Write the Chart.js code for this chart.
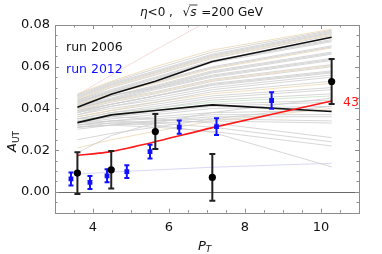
<!DOCTYPE html>
<html>
<head>
<meta charset="utf-8">
<script src="https://cdn.jsdelivr.net/npm/chart.js@4.4.1/dist/chart.umd.min.js"></script>
<style>
html, body { margin: 0; padding: 0; background: #fff; }
#wrap { width: 382px; height: 254px; }
</style>
</head>
<body>
<div id="wrap"><canvas id="chartAut" width="382" height="254"></canvas></div>
<script>
// pT values where the model curves are evaluated
var curvePt = [3.59, 4.48, 5.64, 7.14, 10.28];
var upperBlack = [0.0406, 0.0468, 0.0530, 0.0625, 0.0741];
var lowerBlack = [0.0332, 0.0369, 0.0390, 0.0417, 0.0385];
var redCurve = [0.0175, 0.0193, 0.0240, 0.0308, 0.0436];

// run 2006 (black) and run 2012 (blue) data
var run2006Pt = [3.59, 4.48, 5.64, 7.14, 10.28];
var run2006Val = [0.0090, 0.0106, 0.0289, 0.0069, 0.0529];
var run2006Err = [0.0100, 0.0090, 0.0084, 0.0112, 0.0108];
var run2012Pt = [3.42, 3.92, 4.37, 4.89, 5.50, 6.27, 7.25, 8.70];
var run2012Val = [0.0062, 0.0045, 0.0077, 0.0097, 0.0193, 0.0310, 0.0313, 0.0438];
var run2012Err = [0.0031, 0.0031, 0.0031, 0.0031, 0.0033, 0.0032, 0.0040, 0.0040];

var xTickLabels = [4, 6, 8, 10];
var yTickLabels = [0.00, 0.02, 0.04, 0.06, 0.08];

// faint replica curves behind the main ones
var bgCurves = [
    [0.0470, 0.0530, 0.0600, 0.0680, 0.0780],
    [0.0465, 0.0525, 0.0590, 0.0670, 0.0775],
    [0.0460, 0.0520, 0.0580, 0.0660, 0.0770],
    [0.0455, 0.0515, 0.0575, 0.0655, 0.0765],
    [0.0450, 0.0510, 0.0570, 0.0650, 0.0760],
    [0.0445, 0.0505, 0.0565, 0.0645, 0.0755],
    [0.0440, 0.0500, 0.0560, 0.0640, 0.0750],
    [0.0440, 0.0490, 0.0550, 0.0630, 0.0730],
    [0.0435, 0.0485, 0.0545, 0.0625, 0.0725],
    [0.0430, 0.0480, 0.0540, 0.0620, 0.0720],
    [0.0430, 0.0480, 0.0530, 0.0600, 0.0700],
    [0.0425, 0.0475, 0.0525, 0.0595, 0.0695],
    [0.0420, 0.0470, 0.0520, 0.0590, 0.0690],
    [0.0420, 0.0460, 0.0510, 0.0580, 0.0670],
    [0.0415, 0.0460, 0.0505, 0.0575, 0.0665],
    [0.0410, 0.0460, 0.0500, 0.0570, 0.0660],
    [0.0410, 0.0450, 0.0500, 0.0560, 0.0640],
    [0.0405, 0.0445, 0.0495, 0.0555, 0.0635],
    [0.0400, 0.0440, 0.0490, 0.0550, 0.0630],
    [0.0400, 0.0440, 0.0480, 0.0540, 0.0610],
    [0.0395, 0.0435, 0.0475, 0.0535, 0.0605],
    [0.0390, 0.0430, 0.0470, 0.0530, 0.0600],
    [0.0390, 0.0420, 0.0460, 0.0520, 0.0580],
    [0.0385, 0.0420, 0.0460, 0.0515, 0.0575],
    [0.0380, 0.0420, 0.0460, 0.0510, 0.0570],
    [0.0380, 0.0410, 0.0450, 0.0500, 0.0560],
    [0.0370, 0.0410, 0.0440, 0.0490, 0.0550],
    [0.0370, 0.0400, 0.0430, 0.0480, 0.0530],
    [0.0360, 0.0390, 0.0430, 0.0470, 0.0520],
    [0.0360, 0.0390, 0.0420, 0.0460, 0.0500],
    [0.0350, 0.0380, 0.0410, 0.0450, 0.0490],
    [0.0350, 0.0380, 0.0400, 0.0440, 0.0470],
    [0.0340, 0.0370, 0.0400, 0.0430, 0.0460],
    [0.0340, 0.0360, 0.0390, 0.0420, 0.0440],
    [0.0330, 0.0360, 0.0380, 0.0410, 0.0430],
    [0.0330, 0.0350, 0.0370, 0.0400, 0.0410],
    [0.0320, 0.0340, 0.0360, 0.0380, 0.0390],
    [0.0320, 0.0340, 0.0350, 0.0370, 0.0370],
    [0.0310, 0.0330, 0.0340, 0.0360, 0.0360],
    [0.0310, 0.0320, 0.0340, 0.0350, 0.0340],
    [0.0300, 0.0320, 0.0330, 0.0340, 0.0330],
    [0.0350, 0.0360, 0.0350, 0.0330, 0.0260],
    [0.0330, 0.0340, 0.0330, 0.0310, 0.0240],
    [0.0310, 0.0320, 0.0310, 0.0290, 0.0220],
    [0.0320, 0.0330, 0.0320, 0.0285, 0.0120],
    [0.0187, 0.0270, 0.0330, 0.0380, 0.0450],
    [0.0210, 0.0250, 0.0290, 0.0340, 0.0400],
    [0.0250, 0.0280, 0.0310, 0.0350, 0.0410],
    [0.0085, 0.0095, 0.0105, 0.0118, 0.0137],
    [0.0465, 0.0560, 0.0680, 0.0830, 0.1100]
];
var bgColors = ['tan', 'gray', 'gray', 'gray', 'gray', 'tan', 'gray', 'gray', 'gray', 'gray',
    'gray', 'gray', 'tan', 'gray', 'gray', 'gray', 'gray', 'gray', 'gray', 'gray',
    'tan', 'gray', 'gray', 'gray', 'gray', 'gray', 'gray', 'gray', 'tan', 'gray',
    'gray', 'gray', 'green', 'gray', 'gray', 'gray', 'gray', 'gray', 'gray', 'gray',
    'gray', 'gray', 'gray', 'gray', 'gray', 'gray', 'tan', 'gray', 'blue', 'pink'];

var tones = {
    gray: 'rgba(205,205,205,0.8)',
    tan: 'rgba(235,212,172,0.75)',
    green: 'rgba(190,222,190,0.7)',
    blue: 'rgba(185,185,240,0.55)',
    pink: 'rgba(240,190,190,0.55)'
};

var FONT = "'DejaVu Sans', sans-serif";

function toPoints(xs, ys) {
    var pts = [];
    for (var i = 0; i < xs.length; i++) {
        pts.push({ x: xs[i], y: ys[i] });
    }
    return pts;
}

function buildDatasets() {
    var list = [];
    list.push({
        label: 'run 2006', data: toPoints(run2006Pt, run2006Val), errors: run2006Err,
        showLine: false, pointStyle: 'circle', pointRadius: 3.6,
        pointBackgroundColor: '#000', pointBorderColor: '#000', pointBorderWidth: 0,
        errColor: '#222', errWidth: 2, capHalf: 3, order: 0
    });
    list.push({
        label: 'run 2012', data: toPoints(run2012Pt, run2012Val), errors: run2012Err,
        showLine: false, pointStyle: 'rect', pointRadius: 3.4,
        pointBackgroundColor: '#1010ff', pointBorderColor: '#1010ff', pointBorderWidth: 0,
        errColor: '#1010ff', errWidth: 2, capHalf: 2.5, order: 1
    });
    list.push({
        label: 'fit', data: toPoints(curvePt, redCurve), borderColor: '#ff1a1a',
        borderWidth: 1.6, pointRadius: 0, tension: 0.2, order: 2
    });
    list.push({
        label: 'upper', data: toPoints(curvePt, upperBlack), borderColor: '#111',
        borderWidth: 1.6, pointRadius: 0, order: 3
    });
    list.push({
        label: 'lower', data: toPoints(curvePt, lowerBlack), borderColor: '#111',
        borderWidth: 1.6, pointRadius: 0, order: 4
    });
    for (var i = 0; i < bgCurves.length; i++) {
        list.push({
            label: 'replica ' + i, data: toPoints(curvePt, bgCurves[i]),
            borderColor: tones[bgColors[i]], borderWidth: 1, pointRadius: 0, order: 10
        });
    }
    return list;
}

var errorBars = {
    id: 'errorBars',
    beforeDatasetDraw: function (chart, args) {
        var ds = chart.data.datasets[args.index];
        if (!ds.errors) return;
        var ctx = chart.ctx, xs = chart.scales.x, ys = chart.scales.y;
        ctx.save();
        ctx.strokeStyle = ds.errColor;
        ctx.lineWidth = ds.errWidth;
        for (var i = 0; i < ds.data.length; i++) {
            var px = xs.getPixelForValue(ds.data[i].x);
            var top = ys.getPixelForValue(ds.data[i].y + ds.errors[i]);
            var bot = ys.getPixelForValue(ds.data[i].y - ds.errors[i]);
            ctx.beginPath();
            ctx.moveTo(px, top); ctx.lineTo(px, bot);
            ctx.moveTo(px - ds.capHalf, top); ctx.lineTo(px + ds.capHalf, top);
            ctx.moveTo(px - ds.capHalf, bot); ctx.lineTo(px + ds.capHalf, bot);
            ctx.stroke();
        }
        ctx.restore();
    }
};

function drawPieces(ctx, pieces, x, y) {
    for (var i = 0; i < pieces.length; i++) {
        var p = pieces[i];
        ctx.font = p.font;
        ctx.fillStyle = p.color || '#111';
        ctx.fillText(p.text, x, y + (p.dy || 0));
        var w = ctx.measureText(p.text).width;
        if (p.over) {
            ctx.save();
            ctx.strokeStyle = '#111';
            ctx.lineWidth = 0.8;
            ctx.beginPath();
            ctx.moveTo(x - 1, y - 10.5); ctx.lineTo(x + w + 1, y - 10.5);
            ctx.stroke();
            ctx.restore();
        }
        x += w + (p.gap || 0);
    }
}

var frameDecor = {
    id: 'frameDecor',
    beforeDatasetsDraw: function (chart) {
        var ctx = chart.ctx, a = chart.chartArea;
        var y0 = chart.scales.y.getPixelForValue(0);
        ctx.save();
        ctx.strokeStyle = '#6a6a6a';
        ctx.lineWidth = 1;
        ctx.beginPath();
        ctx.moveTo(a.left, Math.round(y0) + 0.5); ctx.lineTo(a.right, Math.round(y0) + 0.5);
        ctx.stroke();
        ctx.restore();
    },
    afterDraw: function (chart) {
        var ctx = chart.ctx, a = chart.chartArea;
        var xs = chart.scales.x, ys = chart.scales.y;
        ctx.save();
        ctx.strokeStyle = '#8c8c8c';
        ctx.lineWidth = 1;
        ctx.strokeRect(Math.round(a.left) + 0.5, Math.round(a.top) + 0.5,
            Math.round(a.right - a.left), Math.round(a.bottom - a.top));
        ctx.beginPath();
        // x ticks, every 0.5, major at labels
        for (var v = xs.min; v <= xs.max + 1e-9; v += 0.5) {
            var px = Math.round(xs.getPixelForValue(v)) + 0.5;
            var len = (Math.abs(v % 2) < 1e-9) ? 4 : 2.5;
            ctx.moveTo(px, a.bottom); ctx.lineTo(px, a.bottom - len);
            ctx.moveTo(px, a.top); ctx.lineTo(px, a.top + len);
        }
        // y ticks, every 0.005, major every 0.02
        for (var k = -2; k <= 16; k++) {
            var val = k * 0.005;
            var py = Math.round(ys.getPixelForValue(val)) + 0.5;
            var l2 = (k % 4 === 0) ? 4 : 2.5;
            ctx.moveTo(a.left, py); ctx.lineTo(a.left + l2, py);
            ctx.moveTo(a.right, py); ctx.lineTo(a.right - l2, py);
        }
        ctx.stroke();

        ctx.textBaseline = 'alphabetic';
        ctx.textAlign = 'left';
        // title
        var title = [
            { text: 'η', font: 'italic 12px ' + FONT },
            { text: '<0 ,  ', font: '12px ' + FONT, gap: 2 },
            { text: '√', font: '12px ' + FONT },
            { text: 's', font: 'italic 12px ' + FONT, over: true, gap: 1 },
            { text: ' =200 GeV', font: '12px ' + FONT }
        ];
        drawPieces(ctx, title, 140, 15.5);

        // legend text
        ctx.font = '12.5px ' + FONT;
        ctx.fillStyle = '#111';
        ctx.fillText('run 2006', 66, 51);
        ctx.fillStyle = '#1010ff';
        ctx.fillText('run 2012', 66, 73);
        // curve label
        ctx.fillStyle = '#ff1a1a';
        ctx.fillText('43', 343, 106);

        // x axis title P_T
        drawPieces(ctx, [
            { text: 'P', font: 'italic 13px ' + FONT },
            { text: 'T', font: 'italic 9px ' + FONT, dy: 2.5 }
        ], 198, 249.5);

        // y axis title A_UT, rotated
        ctx.save();
        ctx.translate(16, 152);
        ctx.rotate(-Math.PI / 2);
        drawPieces(ctx, [
            { text: 'A', font: 'italic 13px ' + FONT },
            { text: 'UT', font: '9px ' + FONT, dy: 3 }
        ], 0, 0);
        ctx.restore();
        ctx.restore();
    }
};

new Chart('chartAut', {
    type: 'line',
    data: { datasets: buildDatasets() },
    options: {
        responsive: false,
        animation: false,
        devicePixelRatio: 1,
        layout: { padding: { top: 25, right: 23, bottom: 0, left: 0 } },
        plugins: {
            legend: { display: false },
            title: { display: false },
            tooltip: { enabled: false }
        },
        scales: {
            x: {
                type: 'linear', min: 3, max: 11,
                grid: { display: false, drawTicks: false },
                border: { display: false },
                afterBuildTicks: function (scale) {
                    scale.ticks = xTickLabels.map(function (v) { return { value: v }; });
                },
                afterFit: function (scale) { scale.height = 41.3; },
                ticks: {
                    padding: 7, color: '#111',
                    font: { family: FONT, size: 13 },
                    callback: function (v) { return String(v); }
                }
            },
            y: {
                type: 'linear', min: -0.01, max: 0.08,
                grid: { display: false, drawTicks: false },
                border: { display: false },
                afterBuildTicks: function (scale) {
                    scale.ticks = yTickLabels.map(function (v) { return { value: v }; });
                },
                afterFit: function (scale) { scale.width = 55; },
                ticks: {
                    padding: 5, color: '#111',
                    font: { family: FONT, size: 13 },
                    callback: function (v) { return v.toFixed(2); }
                }
            }
        }
    },
    plugins: [errorBars, frameDecor]
});
</script>
</body>
</html>
